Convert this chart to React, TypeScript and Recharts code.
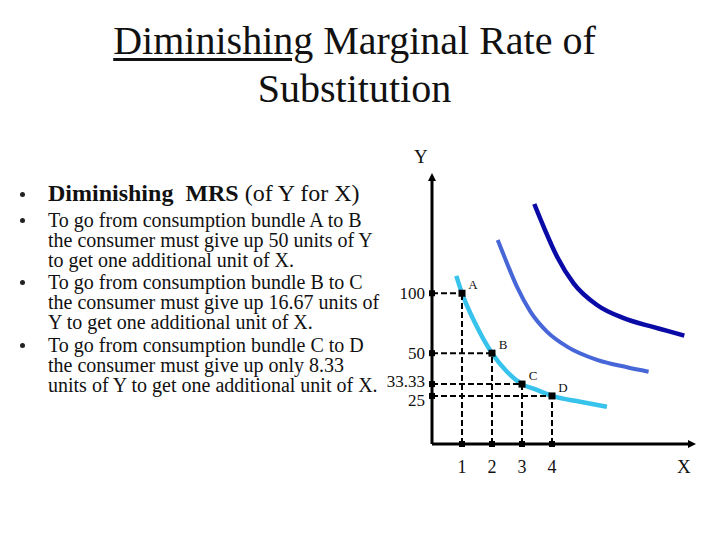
import React from 'react'
import { LineChart, Line, XAxis, YAxis, ReferenceLine, ReferenceDot } from 'recharts'

// bundles A..D on the first indifference curve
const bundleNames = ['A', 'B', 'C', 'D']
const bundleX = [1, 2, 3, 4]
const bundleY = [100, 50, 33.33, 25]

const xTicks = [1, 2, 3, 4]
const yTicks = [25, 33.33, 50, 100]

// indifference curves
const curve1X = [0.81, 1, 1.44, 2, 2.5, 3, 3.5, 4, 4.94, 5.83]
const curve1Y = [115.3, 100, 75, 50, 40, 33.33, 29.2, 25, 22, 19.4]
const curve2X = [2.19, 2.5, 2.83, 3.28, 3.83, 4.5, 5.5, 6.5, 7.22]
const curve2Y = [147, 126.5, 105.8, 84.7, 68, 55.5, 46.4, 42.4, 40]
const curve3X = [3.41, 3.72, 4.17, 4.72, 5.5, 6.39, 7.39, 8.41]
const curve3Y = [178.8, 158.8, 132.3, 108.8, 90.2, 79.2, 71.7, 64.7]

const bullets = [
  [
    'To go from consumption bundle A to B',
    'the consumer must give up 50 units of Y',
    'to get one additional unit of X.',
  ],
  [
    'To go from consumption bundle B to C',
    'the consumer must give up 16.67 units of',
    'Y to get one additional unit of X.',
  ],
  [
    'To go from consumption bundle C to D',
    'the consumer must give up only 8.33',
    'units of Y to get one additional unit of X.',
  ],
]

// the slide's y axis is not drawn to scale: values sit at these shares of the axis
const yKnots = [0, 25, 33.33, 50, 100, 200]
const yKnotShare = [0, 0.182, 0.227, 0.344, 0.571, 1]

const SERIF = '"Liberation Serif", "Times New Roman", serif'

function kinkedScale(knots: number[], share: number[]): any {
  let dom = [knots[0], knots[knots.length - 1]]
  let rng = [0, 1]
  const at = (v: number) => {
    let i = 1
    while (i < knots.length - 1 && v > knots[i]) i++
    const t = (v - knots[i - 1]) / (knots[i] - knots[i - 1])
    return share[i - 1] + t * (share[i] - share[i - 1])
  }
  const s: any = (v: number) => {
    const a = at(Number(dom[0]))
    const b = at(Number(dom[1]))
    return rng[0] + ((at(Number(v)) - a) / (b - a)) * (rng[1] - rng[0])
  }
  s.domain = (d?: number[]) => {
    if (d === undefined) return [...dom]
    dom = [...d]
    return s
  }
  s.range = (r?: number[]) => {
    if (r === undefined) return [...rng]
    rng = [...r]
    return s
  }
  s.copy = () => kinkedScale(knots, share).domain(dom).range(rng)
  s.ticks = () => knots.filter((k) => k >= dom[0] && k <= dom[1])
  s.invert = (px: number) => {
    const a = at(Number(dom[0]))
    const b = at(Number(dom[1]))
    const f = a + ((px - rng[0]) / (rng[1] - rng[0])) * (b - a)
    let i = 1
    while (i < share.length - 1 && f > share[i]) i++
    const t = (f - share[i - 1]) / (share[i] - share[i - 1])
    return knots[i - 1] + t * (knots[i] - knots[i - 1])
  }
  return s
}

const yScale = kinkedScale(yKnots, yKnotShare)

const toPoints = (xs: number[], ys: number[]) => xs.map((x, i) => ({ x, y: ys[i] }))

const XTick = ({ x, y, payload }: any) => (
  <text x={x} y={y} dy="0.71em" textAnchor="middle" fontSize={18} fontFamily={SERIF} fill="#111">
    {payload.value}
  </text>
)

// 33.33 and 25 sit close together on the slide, so spread them a little
const YTick = ({ x, y, payload }: any) => {
  const nudge = payload.value === 33.33 ? -3 : payload.value === 25 ? 4 : 0
  return (
    <text x={x} y={y + nudge} dy="0.35em" textAnchor="end" fontSize={17} fontFamily={SERIF} fill="#111">
      {payload.value}
    </text>
  )
}

const Square = ({ cx, cy }: any) => <rect x={cx - 3} y={cy - 3} width={6} height={6} fill="#000" />

const bundleMark = (name: string) => ({ cx, cy }: any) => (
  <g>
    <rect x={cx - 3.5} y={cy - 3.5} width={7} height={7} fill="#000" />
    <text x={cx + 11} y={cy - 9} dy="0.35em" textAnchor="middle" fontSize={13} fontFamily={SERIF} fill="#111">
      {name}
    </text>
  </g>
)

const ArrowRight = ({ cx, cy }: any) => (
  <polygon points={`${cx + 6},${cy} ${cx - 2},${cy - 4} ${cx - 2},${cy + 4}`} fill="#000" />
)
const ArrowUp = ({ cx, cy }: any) => (
  <polygon points={`${cx},${cy - 7} ${cx - 4},${cy + 1} ${cx + 4},${cy + 1}`} fill="#000" />
)

const Dot = ({ top }: { top: number }) => (
  <span
    style={{ position: 'absolute', left: 2, top, width: 5, height: 5, borderRadius: '50%', background: '#222' }}
  />
)

export default function App() {
  return (
    <div style={{ position: 'absolute', left: 0, top: 0, width: 720, height: 540, background: '#fff', color: '#111', fontFamily: SERIF }}>
      <div style={{ position: 'absolute', left: 0, top: 17, width: 709, textAlign: 'center', fontSize: 40, lineHeight: '48px' }}>
        <span style={{ textDecoration: 'underline', textDecorationThickness: 3, textUnderlineOffset: 4 }}>Diminishing</span>{' '}
        Marginal Rate of
        <br />
        Substitution
      </div>

      <div style={{ position: 'absolute', left: 18, top: 181, fontSize: 24, lineHeight: '24px', whiteSpace: 'pre' }}>
        <Dot top={11} />
        <span style={{ position: 'absolute', left: 30 }}>
          <b>Diminishing  MRS</b> (of Y for X)
        </span>
      </div>

      {bullets.map((lines, i) => (
        <div
          key={i}
          style={{ position: 'absolute', left: 18, top: [210, 271.5, 335][i], fontSize: 20, lineHeight: '20.2px', whiteSpace: 'pre' }}
        >
          <Dot top={8} />
          <div style={{ position: 'absolute', left: 30 }}>
            {lines.map((l, j) => (
              <div key={j}>{l}</div>
            ))}
          </div>
        </div>
      ))}

      <div style={{ position: 'absolute', left: 414, top: 146, fontSize: 19, lineHeight: '22px' }}>Y</div>
      <div style={{ position: 'absolute', left: 677, top: 456, fontSize: 19, lineHeight: '22px' }}>X</div>

      <div style={{ position: 'absolute', left: 0, top: 0 }}>
        <LineChart width={720} height={540} margin={{ top: 180, right: 30, bottom: 56, left: 372 }}>
          <XAxis
            type="number"
            dataKey="x"
            domain={[0, 8.6]}
            ticks={xTicks}
            interval={0}
            allowDataOverflow
            height={40}
            axisLine={{ stroke: '#000', strokeWidth: 3 }}
            tickLine={false}
            tickSize={6}
            tickMargin={10}
            tick={<XTick />}
          />
          <YAxis
            type="number"
            dataKey="y"
            domain={[0, 200]}
            scale={yScale}
            ticks={yTicks}
            interval={0}
            allowDataOverflow
            width={60}
            axisLine={{ stroke: '#000', strokeWidth: 3 }}
            tickLine={false}
            tickSize={6}
            tickMargin={1}
            tick={<YTick />}
          />

          <Line data={toPoints(curve3X, curve3Y)} dataKey="y" type="monotone" stroke="#0a0aa6" strokeWidth={4.5} dot={false} isAnimationActive={false} />
          <Line data={toPoints(curve2X, curve2Y)} dataKey="y" type="monotone" stroke="#4766d8" strokeWidth={4} dot={false} isAnimationActive={false} />
          <Line data={toPoints(curve1X, curve1Y)} dataKey="y" type="monotone" stroke="#38c3ec" strokeWidth={4.5} dot={false} isAnimationActive={false} />

          {bundleX.map((bx, i) => (
            <ReferenceLine
              key={`h${i}`}
              segment={[{ x: 0, y: bundleY[i] }, { x: bx, y: bundleY[i] }]}
              stroke="#000"
              strokeWidth={2}
              strokeDasharray="6 3"
            />
          ))}
          {bundleX.map((bx, i) => (
            <ReferenceLine
              key={`v${i}`}
              segment={[{ x: bx, y: 0 }, { x: bx, y: bundleY[i] }]}
              stroke="#000"
              strokeWidth={2}
              strokeDasharray="6 3"
            />
          ))}
          {bundleX.map((bx, i) => (
            <ReferenceDot key={`ty${i}`} x={0} y={bundleY[i]} ifOverflow="visible" shape={<Square />} />
          ))}
          {bundleX.map((bx, i) => (
            <ReferenceDot key={`tx${i}`} x={bx} y={0} ifOverflow="visible" shape={<Square />} />
          ))}
          {bundleX.map((bx, i) => (
            <ReferenceDot key={`b${i}`} x={bx} y={bundleY[i]} ifOverflow="visible" shape={bundleMark(bundleNames[i])} />
          ))}
          <ReferenceDot x={8.6} y={0} ifOverflow="visible" shape={<ArrowRight />} />
          <ReferenceDot x={0} y={200} ifOverflow="visible" shape={<ArrowUp />} />
        </LineChart>
      </div>
    </div>
  )
}
